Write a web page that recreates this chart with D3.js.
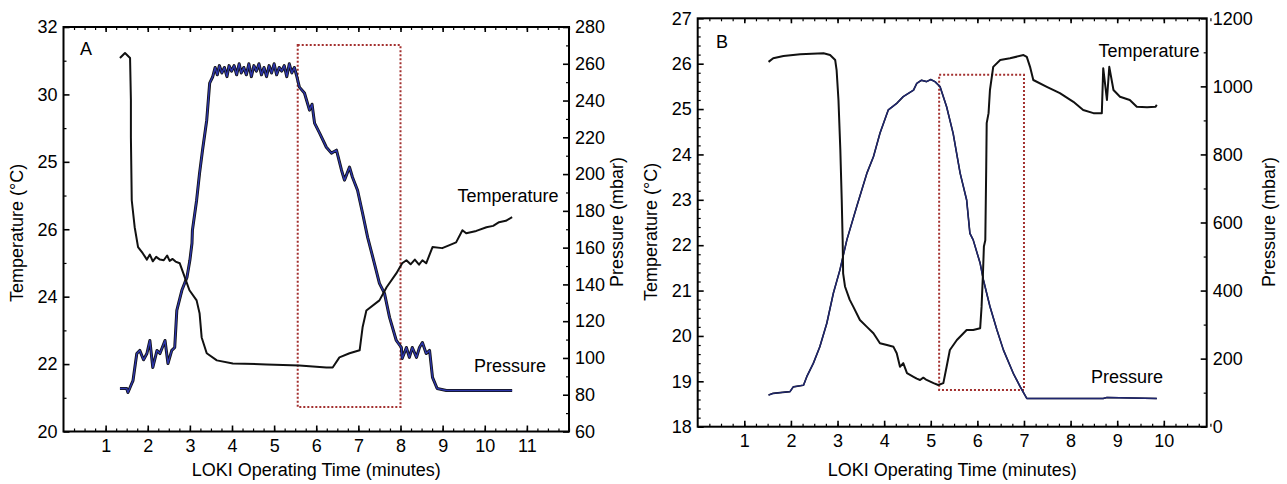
<!DOCTYPE html>
<html lang="en">
<head>
    <meta charset="UTF-8">
    <script src="https://d3js.org/d3.v7.min.js"></script>
    <title>LOKI temperature and pressure</title>
    <style>
        body { margin: 0; background: #fff; }
        text { font-family: "Liberation Sans", Arial, sans-serif; fill: #000; }
    </style>
</head>
<body>
<script>
    // ---- Panel A data ----
    const tempA_t = [1.34, 1.46, 1.58, 1.60, 1.60, 1.62, 1.69, 1.77, 1.88, 1.98, 2.05, 2.12, 2.20, 2.29, 2.38, 2.46, 2.52, 2.59, 2.66,
        2.76, 2.88, 2.99, 3.16, 3.23, 3.28, 3.40, 3.64, 4.02, 4.82, 5.60, 6.24, 6.39, 6.55, 6.79, 7.03, 7.10, 7.19, 7.50, 7.67, 7.90,
        8.04, 8.14, 8.24, 8.34, 8.44, 8.52, 8.61, 8.76, 8.99, 9.15, 9.32, 9.47, 9.56, 9.80, 10.04, 10.20, 10.34, 10.50, 10.65];
    const tempA_v = [31.08, 31.23, 31.08, 29.83, 28.73, 26.86, 26.06, 25.47, 25.29, 25.10, 25.25, 25.05, 25.18, 25.10, 25.08, 25.22, 25.06, 25.12, 25.04,
        24.99, 24.57, 24.19, 23.89, 23.51, 22.79, 22.32, 22.11, 22.02, 21.99, 21.96, 21.90, 21.90, 22.20, 22.32, 22.41, 23.09, 23.59, 23.89, 24.28, 24.69,
        24.99, 25.08, 24.96, 25.10, 24.95, 25.08, 24.99, 25.47, 25.44, 25.52, 25.61, 25.97, 25.88, 25.95, 26.06, 26.10, 26.21, 26.25, 26.36];

    const presA_t = [1.34, 1.50, 1.53, 1.62, 1.65, 1.74, 1.81, 1.90, 1.98, 2.05, 2.12, 2.22, 2.29, 2.41, 2.48, 2.57, 2.64, 2.69, 2.81, 2.93,
        3.00, 3.05, 3.06, 3.16, 3.23, 3.30, 3.40, 3.47, 3.54, 3.60, 3.65, 3.70, 3.76, 3.82, 3.88, 3.93, 3.99, 4.05, 4.11, 4.17, 4.22,
        4.28, 4.34, 4.40, 4.46, 4.52, 4.58, 4.64, 4.70, 4.76, 4.82, 4.88, 4.94, 5.00, 5.06, 5.12, 5.18, 5.24, 5.30, 5.36, 5.42, 5.48,
        5.53, 5.60, 5.72, 5.84, 5.90, 5.96, 6.08, 6.24, 6.36, 6.48, 6.60, 6.67, 6.79, 6.86, 6.98, 7.10, 7.22, 7.38, 7.50, 7.62, 7.74,
        7.90, 8.02, 8.04, 8.14, 8.21, 8.28, 8.38, 8.45, 8.52, 8.61, 8.69, 8.76, 8.87, 9.09, 10.65];
    const presA_v = [83.4, 83.4, 81.2, 86.1, 87.7, 102.4, 104.1, 99.0, 102.4, 109.5, 94.8, 104.1, 102.4, 109.5, 97.0, 104.1, 105.7, 125.9, 136.8, 143.8,
        153.1, 162.4, 169.4, 185.8, 200.5, 213.0, 229.3, 249.5, 252.8, 258, 254, 259, 255, 258, 253, 259, 256, 259, 254, 260, 255,
        258, 254, 260, 253, 259, 256, 260, 254, 258, 253, 259, 255, 260, 254, 258, 256, 259, 253, 260, 255, 258,
        253.9, 247.3, 244.1, 234.8, 238.0, 227.7, 222.3, 214.6, 211.4, 213.0, 202.1, 196.7, 203.8, 198.3, 191.2, 178.7, 165.6, 151.5, 140.6, 135.1, 122.1,
        109.5, 105.7, 99.7, 105.7, 100.3, 105.7, 100.3, 105.7, 108.4, 102.4, 104.1, 89.4, 83.4, 82.3, 82.3];

    // ---- Panel B data ----
    const tempB_t = [1.52, 1.62, 1.84, 2.20, 2.70, 2.84, 2.95, 2.98, 3.02, 3.06, 3.09, 3.11, 3.12, 3.16, 3.26, 3.34, 3.48, 3.63, 3.77, 3.91,
        4.06, 4.20, 4.27, 4.34, 4.41, 4.49, 4.63, 4.70, 4.77, 4.84, 4.91, 5.06, 5.16, 5.27, 5.34, 5.41, 5.56, 5.77, 5.91, 6.06, 6.09,
        6.12, 6.14, 6.17, 6.19, 6.20, 6.24, 6.27, 6.34, 6.49, 6.70, 6.99, 7.06, 7.13, 7.20, 7.49, 7.77, 8.06, 8.27, 8.49, 8.67, 8.70,
        8.78, 8.83, 8.92, 9.06, 9.27, 9.42, 9.64, 9.82, 9.85];
    const tempB_v = [26.04, 26.12, 26.17, 26.21, 26.23, 26.19, 26.08, 25.86, 25.20, 24.10, 23.00, 22.11, 21.38, 21.09, 20.80, 20.64, 20.35, 20.20, 20.06, 19.84,
        19.80, 19.76, 19.62, 19.32, 19.40, 19.18, 19.10, 19.06, 19.03, 19.08, 19.03, 18.96, 18.92, 18.96, 19.32, 19.69, 19.91, 20.13, 20.13, 20.17, 20.64,
        21.38, 21.97, 22.11, 23.73, 24.69, 24.91, 25.42, 25.93, 26.08, 26.12, 26.19, 26.15, 25.93, 25.64, 25.49, 25.35, 25.16, 24.98, 24.91, 24.91, 25.90,
        25.20, 25.93, 25.42, 25.27, 25.20, 25.05, 25.04, 25.05, 25.09];

    const presB_t = [1.52, 1.62, 1.77, 1.98, 2.05, 2.27, 2.34, 2.48, 2.62, 2.77, 2.91, 3.05, 3.20, 3.41, 3.63, 3.77, 3.91, 4.09, 4.27, 4.41,
        4.63, 4.70, 4.80, 4.91, 5.00, 5.09, 5.20, 5.34, 5.48, 5.63, 5.77, 5.84, 5.91, 6.06, 6.13, 6.27, 6.42, 6.56, 6.77, 6.92, 7.06,
        8.70, 8.78, 9.85];
    const presB_v = [93, 98, 100, 103, 117, 122, 147, 186, 235, 304, 392, 460, 549, 646, 745, 793, 862, 931, 950, 970,
        989, 1009, 1018, 1014, 1020, 1014, 999, 940, 862, 745, 666, 568, 549, 480, 431, 353, 284, 225, 157, 117, 83,
        83, 86, 83];

    // ---- axes / labels ----
    const tickA_left = [20, 22, 24, 26, 28, 30, 32];
    const tickA_leftLabels = ["20", "22", "24", "26", "25", "30", "32"];
    const tickA_right = [60, 80, 100, 120, 140, 160, 180, 200, 220, 240, 260, 280];
    const tickA_x = [1, 2, 3, 4, 5, 6, 7, 8, 9, 10, 11];
    const tickB_left = [18, 19, 20, 21, 22, 23, 24, 25, 26, 27];
    const tickB_right = [0, 200, 400, 600, 800, 1000, 1200];
    const tickB_x = [1, 2, 3, 4, 5, 6, 7, 8, 9, 10];

    const rectA = {t0: 5.56, t1: 8.0, p0: 73.3, p1: 270.2};
    const rectB = {t0: 5.18, t1: 7.0, p0: 108, p1: 1034};

    const svg = d3.select("body").append("svg")
        .attr("width", 1287)
        .attr("height", 484);

    const range = (a, b, s) => d3.range(a, b + s / 2, s).map(v => +v.toFixed(3));

    const drawPanel = (p) => {
        const g = svg.append("g");
        const x = d3.scaleLinear().domain(p.xDomain).range([p.left, p.right]);
        const yL = d3.scaleLinear().domain(p.leftDomain).range([p.bottom, p.top]);
        const yR = d3.scaleLinear().domain(p.rightDomain).range([p.bottom, p.top]);

        // minor ticks first
        const minor = (axis, tf) => g.append("g").attr("transform", tf)
            .call(axis.tickSizeOuter(0).tickFormat(""))
            .call(s => s.select(".domain").remove())
            .call(s => s.selectAll("line").attr("stroke-width", 1.2));
        minor(d3.axisBottom(x).tickValues(range(0.25, p.xDomain[1], 0.25)).tickSize(-3), `translate(0,${p.bottom})`);
        minor(d3.axisTop(x).tickValues(range(0.25, p.xDomain[1], 0.25)).tickSize(-3), `translate(0,${p.top})`);
        minor(d3.axisLeft(yL).tickValues(p.leftMinor).tickSize(-3), `translate(${p.left},0)`);
        minor(d3.axisRight(yR).tickValues(p.rightMinor).tickSize(-3), `translate(${p.right},0)`);

        const styleAxis = s => {
            s.select(".domain").remove();
            s.selectAll("line").attr("stroke-width", 1.6);
            s.selectAll("text").style("font-size", "18px").attr("fill", "#000");
        };

        g.append("g").attr("transform", `translate(0,${p.bottom})`)
            .call(d3.axisBottom(x).tickValues(p.xTicks).tickSize(-6).tickSizeOuter(0).tickPadding(8).tickFormat(d3.format("d")))
            .call(styleAxis);
        g.append("g").attr("transform", `translate(0,${p.top})`)
            .call(d3.axisTop(x).tickValues(p.xTicks).tickSize(-5).tickSizeOuter(0).tickFormat(""))
            .call(styleAxis);
        g.append("g").attr("transform", `translate(${p.left},0)`)
            .call(d3.axisLeft(yL).tickValues(p.leftTicks).tickSize(-6).tickSizeOuter(0).tickPadding(6)
                .tickFormat((d, i) => p.leftLabels[i]))
            .call(styleAxis);
        g.append("g").attr("transform", `translate(${p.right},0)`)
            .call(d3.axisRight(yR).tickValues(p.rightTicks).tickSize(-6).tickSizeOuter(0).tickPadding(6).tickFormat(d3.format("d")))
            .call(styleAxis);

        // frame
        g.append("rect")
            .attr("x", p.left).attr("y", p.top)
            .attr("width", p.right - p.left).attr("height", p.bottom - p.top)
            .attr("fill", "none").attr("stroke", "#000").attr("stroke-width", 2);

        // highlight box
        g.append("rect")
            .attr("x", x(p.rect.t0)).attr("y", yR(p.rect.p1))
            .attr("width", x(p.rect.t1) - x(p.rect.t0))
            .attr("height", yR(p.rect.p0) - yR(p.rect.p1))
            .attr("fill", "none").attr("stroke", "#a3302f")
            .attr("stroke-width", 2).attr("stroke-dasharray", "2,2");

        // lines
        const tempLine = d3.line().x(d => x(d[0])).y(d => yL(d[1]));
        const presLine = d3.line().x(d => x(d[0])).y(d => yR(d[1]));
        const pres = d3.zip(p.presT, p.presV);
        g.append("path").datum(pres).attr("d", presLine)
            .attr("fill", "none").attr("stroke", "#111")
            .attr("stroke-width", p.presUnder).attr("stroke-linejoin", "round");
        g.append("path").datum(pres).attr("d", presLine)
            .attr("fill", "none").attr("stroke", p.presColor)
            .attr("stroke-width", 1.4).attr("stroke-linejoin", "round");
        g.append("path").datum(d3.zip(p.tempT, p.tempV)).attr("d", tempLine)
            .attr("fill", "none").attr("stroke", "#111")
            .attr("stroke-width", 2).attr("stroke-linejoin", "round");

        // texts
        const txt = (tx, ty, s, anchor) => g.append("text")
            .attr("x", tx).attr("y", ty).attr("text-anchor", anchor || "middle")
            .attr("dominant-baseline", "middle")
            .style("font-size", "18px").text(s);
        txt(p.letter[0], p.letter[1], p.letter[2]);
        txt(p.tempLabel[0], p.tempLabel[1], "Temperature");
        txt(p.presLabel[0], p.presLabel[1], "Pressure");
        txt((p.left + p.right) / 2, 471, "LOKI Operating Time (minutes)");
        g.append("text")
            .attr("transform", `translate(${p.leftTitleX},${p.leftTitleY}) rotate(-90)`)
            .attr("text-anchor", "middle").attr("dominant-baseline", "middle")
            .style("font-size", "18px").text("Temperature (°C)");
        g.append("text")
            .attr("transform", `translate(${p.rightTitleX},${p.rightTitleY}) rotate(-90)`)
            .attr("text-anchor", "middle").attr("dominant-baseline", "middle")
            .style("font-size", "18px").text("Pressure (mbar)");
    };

    drawPanel({
        left: 63.5, right: 569, top: 27, bottom: 431.5,
        xDomain: [0, 12], xTicks: tickA_x,
        leftDomain: [20, 32], leftTicks: tickA_left, leftLabels: tickA_leftLabels, leftMinor: [21, 23, 25, 27, 29, 31],
        rightDomain: [60, 280], rightTicks: tickA_right, rightMinor: range(70, 270, 20),
        rect: rectA,
        tempT: tempA_t, tempV: tempA_v, presT: presA_t, presV: presA_v,
        presColor: "#2c35a8", presUnder: 3,
        letter: [86, 50, "A"], tempLabel: [508, 197], presLabel: [510, 367],
        leftTitleX: 18, leftTitleY: 233, rightTitleX: 618, rightTitleY: 222
    });

    drawPanel({
        left: 697.7, right: 1206.7, top: 18.3, bottom: 426.7,
        xDomain: [0, 10.92], xTicks: tickB_x,
        leftDomain: [18, 27], leftTicks: tickB_left, leftLabels: tickB_left.map(String), leftMinor: range(18.2, 26.8, 0.2).filter(v => Math.abs(v - Math.round(v)) > 0.01),
        rightDomain: [0, 1200], rightTicks: tickB_right, rightMinor: range(100, 1100, 200),
        rect: rectB,
        tempT: tempB_t, tempV: tempB_v, presT: presB_t, presV: presB_v,
        presColor: "#1f2670", presUnder: 1.6,
        letter: [722, 43, "B"], tempLabel: [1149, 52], presLabel: [1127, 378],
        leftTitleX: 652, leftTitleY: 232, rightTitleX: 1270, rightTitleY: 222
    });
</script>
</body>
</html>
